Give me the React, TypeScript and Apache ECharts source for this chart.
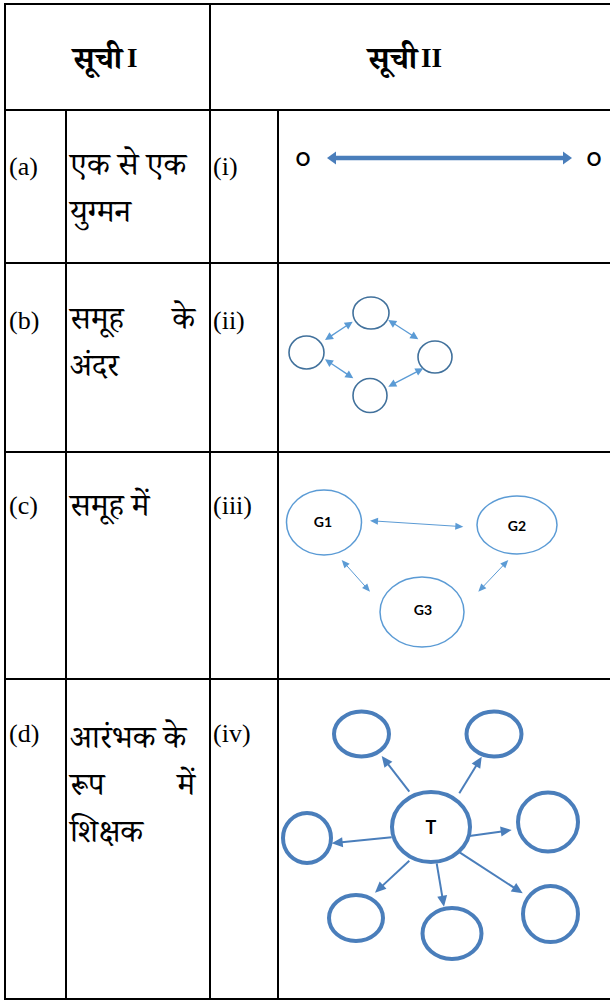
import React, { useEffect, useRef } from "react";
import * as echarts from "echarts";

// ---- content ----
const headerWord = "सूची";
const headerNums = ["I", "II"];
const leftLabels = ["(a)", "(b)", "(c)", "(d)"];
// each row: lines; each line: [left part, optional right-justified part]
const leftTexts: string[][][] = [
  [["एक से एक"], ["युग्मन"]],
  [["समूह", "के"], ["अंदर"]],
  [["समूह में"]],
  [["आरंभक के"], ["रूप", "में"], ["शिक्षक"]],
];
const rightLabels = ["(i)", "(ii)", "(iii)", "(iv)"];
const pairEnds = ["O", "O"];
const groupNames = ["G1", "G2", "G3"];
const teacherName = "T";

// ---- layout ----
const W = 610;
const H = 1002;
const hLines = [4, 110, 263, 452, 679, 999];
const labelMid = [166, 320, 505, 733];
const lineMid = [164, 318, 505, 737];
const lineGap = 47;

const SERIF = "'Liberation Serif', 'Noto Serif Devanagari', 'Noto Sans Devanagari', 'Lohit Devanagari', 'Mangal', serif";
const SANS = "Lato, 'Open Sans', 'Liberation Sans', sans-serif";

// diagram (ii)
const ringNodes = [
  [371, 313, 18, 16],
  [306.5, 352.5, 17.5, 16.5],
  [435, 357, 17, 16],
  [370, 395.5, 17, 17],
];
const ringEdges = [
  [325, 340, 352.7, 321.7],
  [388.3, 320, 418.3, 339.3],
  [325, 359.3, 353.3, 378.3],
  [388.3, 386.7, 423.3, 368.3],
];
// diagram (iii)
const groupNodes = [
  [324, 522.5, 37.5, 32.5],
  [517, 525, 40, 29],
  [422, 612, 42, 35],
];
const groupLabelPos = [
  [323, 521],
  [517, 525],
  [423, 609],
];
const groupEdges = [
  [370, 520.7, 463.3, 526.7],
  [341.7, 560, 370, 591.7],
  [478.3, 591.7, 508.3, 560],
];
// diagram (iv)
const teacherNode = [431, 827, 39, 35];
const studentNodes = [
  [361.5, 734, 27.5, 22.5],
  [494, 734, 27.5, 22.5],
  [307, 838, 24, 25],
  [548, 822, 30, 29.5],
  [356, 918, 27, 23],
  [452, 933.5, 29.5, 25.5],
  [550.5, 914, 27.5, 28],
];
const teacherEdges = [
  [409.3, 791.7, 381.7, 756],
  [459.3, 793.3, 481.7, 756.7],
  [391.7, 837.3, 331.7, 843.3],
  [469.3, 836, 511.7, 830],
  [409.3, 860.7, 375, 892.7],
  [436.7, 863.3, 444, 906.7],
  [460, 852.7, 522.7, 893.3],
];

function head(tx: number, ty: number, fx: number, fy: number, len: number, wid: number, color: string) {
  const dx = tx - fx;
  const dy = ty - fy;
  const d = Math.hypot(dx, dy) || 1;
  const ux = dx / d;
  const uy = dy / d;
  const bx = tx - ux * len;
  const by = ty - uy * len;
  const px = -uy * (wid / 2);
  const py = ux * (wid / 2);
  return {
    type: "polygon",
    shape: { points: [[tx, ty], [bx + px, by + py], [bx - px, by - py]] },
    style: { fill: color },
    silent: true,
  };
}

function arrow(e: number[], both: boolean, color: string, lw: number, len: number, wid: number) {
  const [x1, y1, x2, y2] = e;
  const d = Math.hypot(x2 - x1, y2 - y1);
  const ux = (x2 - x1) / d;
  const uy = (y2 - y1) / d;
  const sx = both ? x1 + ux * (len - 1) : x1;
  const sy = both ? y1 + uy * (len - 1) : y1;
  const ex = x2 - ux * (len - 1);
  const ey = y2 - uy * (len - 1);
  const out: any[] = [
    { type: "line", shape: { x1: sx, y1: sy, x2: ex, y2: ey }, style: { stroke: color, lineWidth: lw }, silent: true },
    head(x2, y2, x1, y1, len, wid, color),
  ];
  if (both) out.push(head(x1, y1, x2, y2, len, wid, color));
  return out;
}

function ellipse(n: number[], color: string, lw: number) {
  return {
    type: "ellipse",
    shape: { cx: n[0], cy: n[1], rx: n[2], ry: n[3] },
    style: { fill: "#fff", stroke: color, lineWidth: lw },
    silent: true,
  };
}

function txt(s: string, x: number, y: number, size: number, align: string, font: string, weight: string = "normal") {
  return {
    type: "text",
    x,
    y,
    style: { text: s, fontSize: size, fontFamily: font, fontWeight: weight, fill: "#000", align, verticalAlign: "middle" },
    silent: true,
  };
}

function buildGraphics() {
  const g: any[] = [];
  // table grid
  const black = { stroke: "#000", lineWidth: 2 };
  hLines.forEach((y) => g.push({ type: "line", shape: { x1: 4, y1: y, x2: W, y2: y }, style: black, silent: true }));
  [[5, 4], [66, 110], [210, 4], [278, 110]].forEach(([x, y0]) =>
    g.push({ type: "line", shape: { x1: x, y1: y0, x2: x, y2: 999 }, style: black, silent: true })
  );
  // headers
  g.push(txt(headerWord, 122, 58, 31, "right", SERIF, "bold"));
  g.push(txt(headerNums[0], 127, 58, 27, "left", SERIF, "bold"));
  g.push(txt(headerWord, 417, 58, 31, "right", SERIF, "bold"));
  g.push(txt(headerNums[1], 421, 58, 27, "left", SERIF, "bold"));
  // rows
  leftLabels.forEach((l, i) => g.push(txt(l, 9, labelMid[i], 26, "left", SERIF)));
  rightLabels.forEach((l, i) => g.push(txt(l, 213, labelMid[i], 26, "left", SERIF)));
  leftTexts.forEach((lines, i) => {
    lines.forEach((parts, j) => {
      const y = lineMid[i] + j * lineGap;
      g.push(txt(parts[0], 70, y, 32, "left", SERIF));
      if (parts[1]) g.push(txt(parts[1], 195, y, 32, "right", SERIF));
    });
  });
  // (i) one to one pairing
  g.push(txt(pairEnds[0], 303, 159, 18, "center", SANS, "bold"));
  g.push(txt(pairEnds[1], 594, 159, 18, "center", SANS, "bold"));
  g.push(...arrow([327, 158, 572, 158], true, "#4a7ebb", 4.5, 9, 13));
  // (ii) within group
  ringNodes.forEach((n) => g.push(ellipse(n, "#41719c", 1.6)));
  ringEdges.forEach((e) => g.push(...arrow(e, true, "#5b9bd5", 1.3, 8, 8)));
  // (iii) in groups
  groupNodes.forEach((n) => g.push(ellipse(n, "#5b9bd5", 1.5)));
  groupNames.forEach((s, i) => g.push(txt(s, groupLabelPos[i][0], groupLabelPos[i][1], 14, "center", SANS, "bold")));
  groupEdges.forEach((e) => g.push(...arrow(e, true, "#5b9bd5", 1, 8, 7)));
  // (iv) teacher as initiator
  studentNodes.forEach((n) => g.push(ellipse(n, "#4a7ebb", 4)));
  g.push(ellipse(teacherNode, "#4a7ebb", 4));
  g.push(txt(teacherName, 431, 827, 18, "center", SANS, "bold"));
  teacherEdges.forEach((e) => g.push(...arrow(e, false, "#4a7ebb", 2, 11, 10)));
  return g;
}

export default function App() {
  const ref = useRef<HTMLDivElement>(null);
  useEffect(() => {
    if (!ref.current) return;
    const chart = echarts.init(ref.current, undefined, { renderer: "svg" });
    chart.setOption({
      animation: false,
      backgroundColor: "#fff",
      graphic: { elements: buildGraphics() },
    });
    return () => chart.dispose();
  }, []);
  return (
    <div
      ref={ref}
      style={{ position: "fixed", left: 0, top: 0, width: W, height: H, background: "#fff" }}
    />
  );
}
